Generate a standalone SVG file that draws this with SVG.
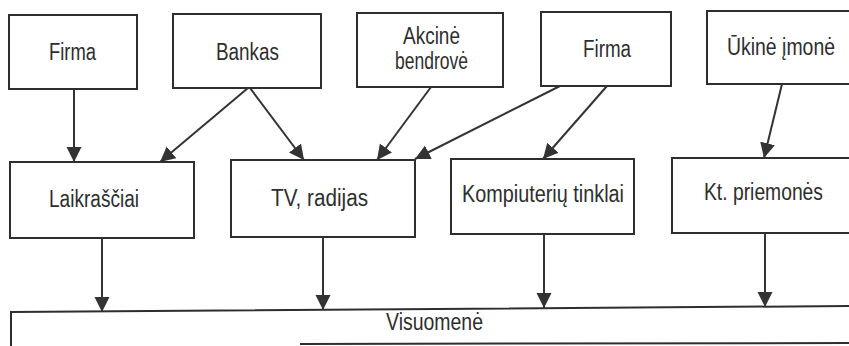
<svg xmlns="http://www.w3.org/2000/svg" width="849" height="346" viewBox="0 0 849 346">
  <style>
    .box { fill: #ffffff; stroke: #2e2e2e; stroke-width: 2; }
    .lbl { font-family: "Liberation Sans", Arial, sans-serif; font-size: 23px; fill: #2e2e2e; }
    .edge { fill: none; stroke: #333333; stroke-width: 2; marker-end: url(#head); }
    .frame { fill: none; stroke: #2e2e2e; stroke-width: 2; }
  </style>
  <defs>
    <marker id="head" markerUnits="userSpaceOnUse" markerWidth="16" markerHeight="16" refX="15" refY="7.5" orient="auto">
      <path d="M0,0 L15,7.5 L0,15 Z" fill="#333333"/>
    </marker>
  </defs>
  <rect width="849" height="346" fill="#ffffff"/>

  <!-- sources -->
  <g id="firma1">
    <rect class="box" x="9" y="15" width="128" height="74"/>
    <text class="lbl" x="49" y="60" textLength="47" lengthAdjust="spacingAndGlyphs">Firma</text>
  </g>
  <g id="bankas">
    <rect class="box" x="173" y="14" width="148" height="74"/>
    <text class="lbl" x="216" y="60" textLength="63" lengthAdjust="spacingAndGlyphs">Bankas</text>
  </g>
  <g id="akcine">
    <rect class="box" x="357" y="13" width="146" height="74"/>
    <text class="lbl" x="403" y="44" textLength="57" lengthAdjust="spacingAndGlyphs">Akcinė</text>
    <text class="lbl" x="395" y="69" textLength="73" lengthAdjust="spacingAndGlyphs">bendrovė</text>
  </g>
  <g id="firma2">
    <rect class="box" x="541" y="12" width="130" height="74"/>
    <text class="lbl" x="583" y="57" textLength="48" lengthAdjust="spacingAndGlyphs">Firma</text>
  </g>
  <g id="ukine">
    <rect class="box" x="707" y="11" width="150" height="73"/>
    <text class="lbl" x="727" y="55" textLength="108" lengthAdjust="spacingAndGlyphs">Ūkinė įmonė</text>
  </g>

  <!-- media -->
  <g id="laikrasciai">
    <rect class="box" x="10" y="162" width="184" height="76"/>
    <text class="lbl" x="49" y="207" textLength="90" lengthAdjust="spacingAndGlyphs">Laikraščiai</text>
  </g>
  <g id="tv">
    <rect class="box" x="231" y="160" width="184" height="77"/>
    <text class="lbl" x="271" y="206" textLength="97" lengthAdjust="spacingAndGlyphs">TV, radijas</text>
  </g>
  <g id="kompiuteriai">
    <rect class="box" x="451" y="159" width="183" height="75"/>
    <text class="lbl" x="462" y="202" textLength="162" lengthAdjust="spacingAndGlyphs">Kompiuterių tinklai</text>
  </g>
  <g id="kt">
    <rect class="box" x="672" y="158" width="190" height="75"/>
    <text class="lbl" x="704" y="200" textLength="119" lengthAdjust="spacingAndGlyphs">Kt. priemonės</text>
  </g>

  <!-- society -->
  <g id="visuomene">
    <path class="frame" d="M11,347 L11,312 L850,306"/>
    <path class="frame" d="M300,344 L850,343"/>
    <text class="lbl" x="386" y="330" textLength="97" lengthAdjust="spacingAndGlyphs">Visuomenė</text>
  </g>

  <g id="connectors">
    <path class="edge" d="M74,89 L74,162"/>
    <path class="edge" d="M248,88 L160,162"/>
    <path class="edge" d="M250,88 L304,160"/>
    <path class="edge" d="M431,87 L377,160"/>
    <path class="edge" d="M560,86 L415,159"/>
    <path class="edge" d="M607,86 L543,159"/>
    <path class="edge" d="M782,84 L764,158"/>
    <path class="edge" d="M102,238 L102,312"/>
    <path class="edge" d="M323,237 L323,310"/>
    <path class="edge" d="M544,234 L544,308"/>
    <path class="edge" d="M765,233 L765,307"/>
  </g>
</svg>
